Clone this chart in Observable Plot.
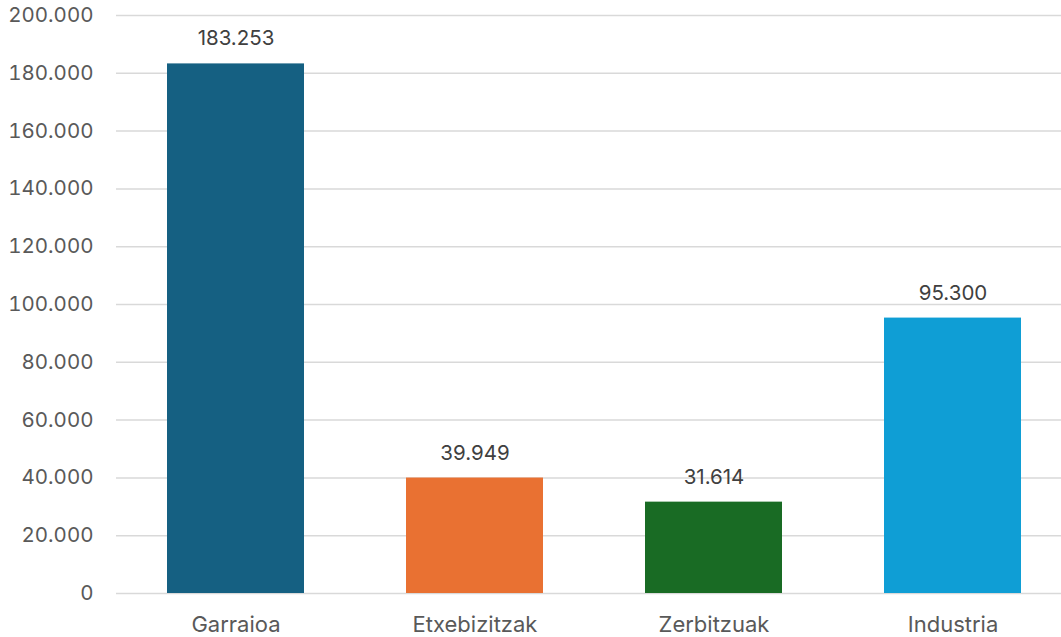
<!DOCTYPE html>
<html>
<head>
<meta charset="utf-8">
<script src="https://cdn.jsdelivr.net/npm/d3@7"></script>
<script src="https://cdn.jsdelivr.net/npm/@observablehq/plot@0.6"></script>
<style>
  html, body { margin: 0; padding: 0; background: #fff; overflow: hidden; }
  #chart svg { display: block; }
</style>
</head>
<body>
<div id="chart"></div>
<script>
const categories = ["Garraioa", "Etxebizitzak", "Zerbitzuak", "Industria"];
const values = [183253, 39949, 31614, 95300];
const colors = ["#156082", "#E97132", "#196B24", "#0F9ED5"];
const yTicks = [0, 20000, 40000, 60000, 80000, 100000, 120000, 140000, 160000, 180000, 200000];

const data = categories.map((c, i) => ({category: c, value: values[i], color: colors[i]}));
const locale = d3.formatLocale({thousands: ".", decimal: ",", grouping: [3], currency: ["", ""]});
const fmt = locale.format(",d");

const chart = Plot.plot({
  width: 1061,
  height: 637,
  marginTop: 15,
  marginBottom: 44,
  marginLeft: 116,
  marginRight: 0,
  style: {fontFamily: "Inter, 'Open Sans', sans-serif", fontSize: "20px", color: "#595959", background: "#fff"},
  x: {domain: categories, range: [116, 1072], paddingInner: 0.427, paddingOuter: 0.2135, label: null},
  y: {domain: [0, 200000], label: null},
  marks: [
    Plot.ruleY(yTicks, {stroke: "#d9d9d9", strokeWidth: 1.5}),
    Plot.barY(data, {x: "category", y: "value", fill: "color"}),
    Plot.text(data, {x: "category", y: "value", text: d => fmt(d.value), dy: -25, fill: "#404040", fontSize: 20.5}),
    Plot.axisY(yTicks, {tickSize: 0, tickPadding: 23, tickFormat: fmt, fill: "#595959", fontSize: 20.5}),
    Plot.axisX({tickSize: 0, tickPadding: 23, fill: "#595959", fontSize: 22})
  ]
});
document.getElementById("chart").appendChild(chart);
</script>
</body>
</html>
